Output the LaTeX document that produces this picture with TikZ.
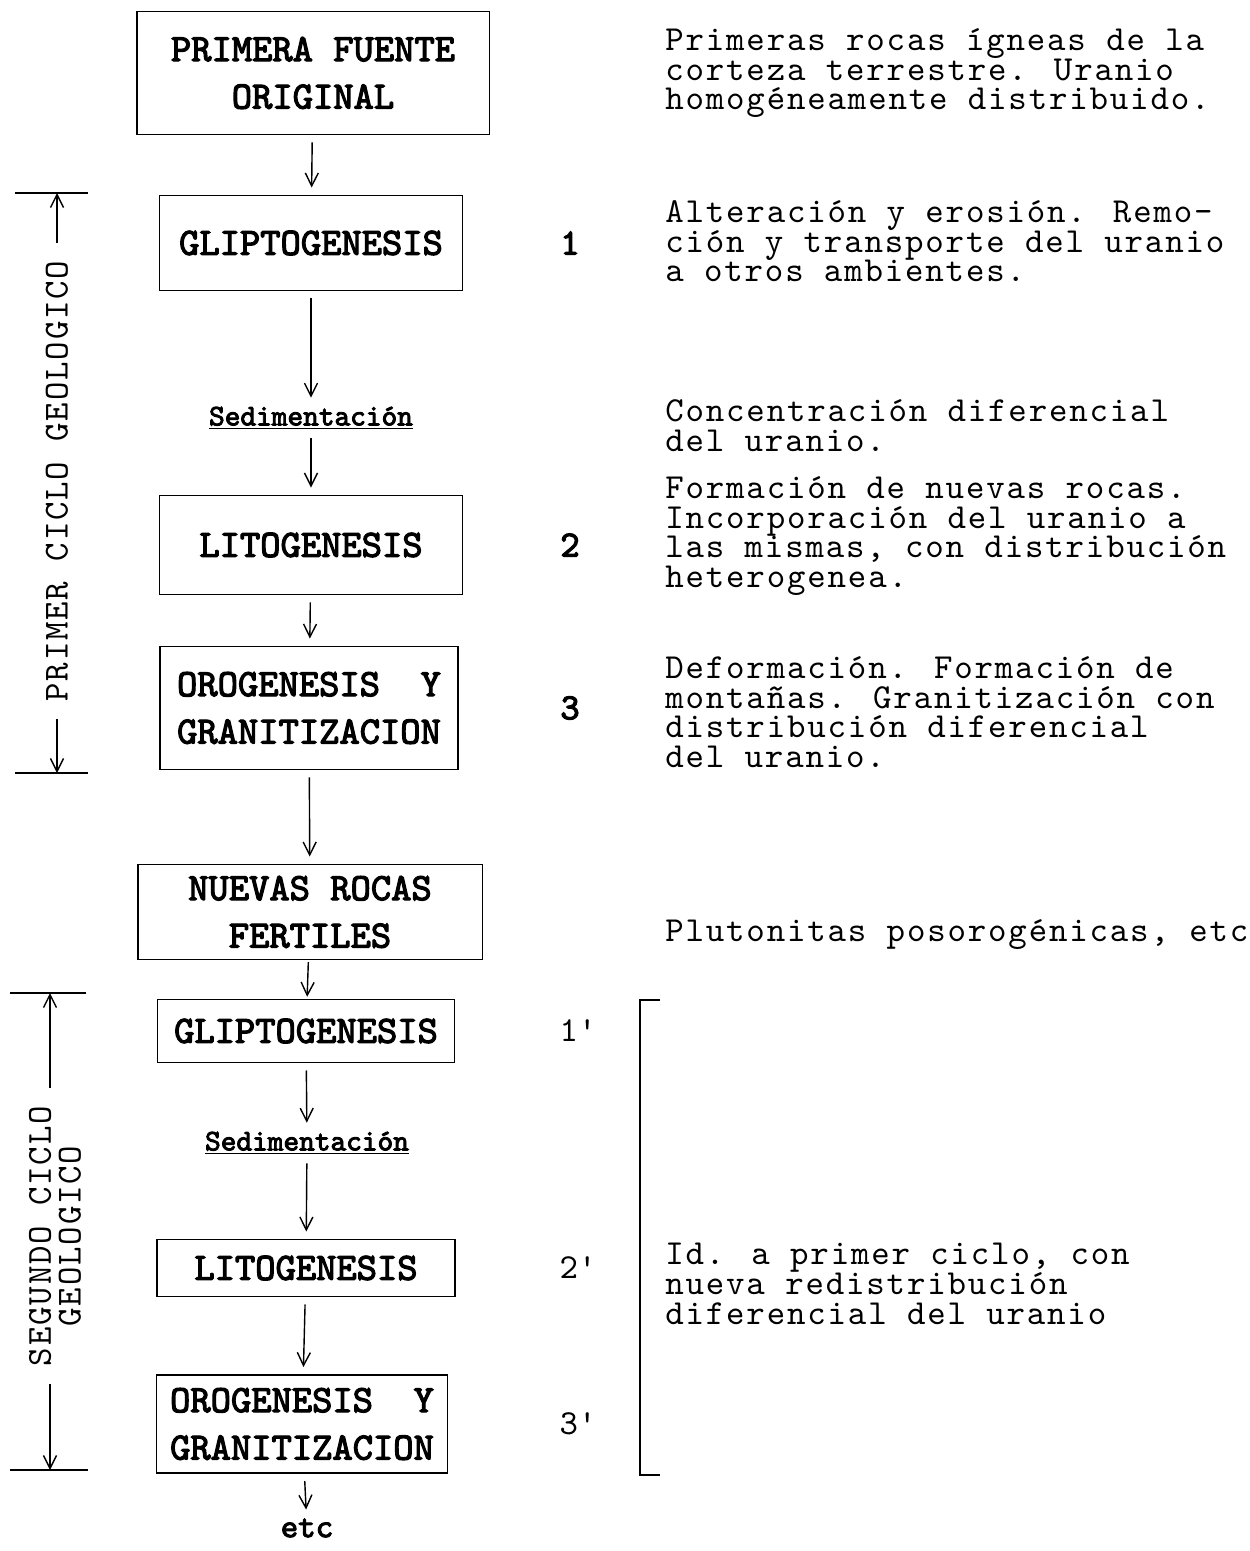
\documentclass[tikz,border=0pt]{standalone}
\usepackage{fontspec}
\newfontfamily\typebold[FakeBold=3]{lmmono10-regular.otf}
\newfontfamily\typeplain[LetterSpace=5.25]{lmmono10-regular.otf}
\usepackage{tikz}
\usetikzlibrary{arrows.meta, positioning, calc}
\newcommand{\boxfont}{\typebold\fontsize{22}{27}\selectfont}
\newcommand{\notefont}{\typeplain\fontsize{20}{17}\selectfont\lineskiplimit=-100pt}
\newcommand{\sedfont}{\typebold\fontsize{17}{17}\selectfont}
\tikzset{
  stagebox/.style={rectangle, draw, line width=1.1pt, align=center, font=\boxfont, inner sep=0pt},
  stagetext/.style={align=center, inner sep=1pt, font=\sedfont},
  flowarrow/.style={-{Straight Barb[length=2.6mm, width=2.6mm]}, line width=0.8pt, shorten <=4pt, shorten >=4pt},
  note/.style={anchor=north west, align=left, inner sep=0pt, font=\notefont},
  stepnum/.style={inner sep=0pt, font=\notefont},
  cyclelabel/.style={rotate=90, align=center, inner sep=0pt, font=\notefont},
  bound/.style={line width=1.1pt},
}

\begin{document}
\begin{tikzpicture}[x=0.02cm, y=-0.02cm]
  \useasboundingbox (0,0) rectangle (1250,1551);

  % Flow
  \node[stagebox, minimum width=7.06cm, minimum height=2.46cm] (src) at (313,73) {PRIMERA FUENTE\\ORIGINAL};
  \node[stagebox, minimum width=6.06cm, minimum height=1.9cm] (glip) at (311,243) {GLIPTOGENESIS};
  \node[stagetext] (sed) at (311,418) {\underline{Sedimentación}};
  \node[stagebox, minimum width=6.06cm, minimum height=1.98cm] (lito) at (311,545) {LITOGENESIS};
  \node[stagebox, minimum width=5.96cm, minimum height=2.46cm] (oro) at (309,708) {OROGENESIS\ \ Y\\GRANITIZACION};
  \node[stagebox, minimum width=6.9cm, minimum height=1.9cm] (fert) at (310,912) {NUEVAS ROCAS\\FERTILES};
  \node[stagebox, minimum width=5.94cm, minimum height=1.26cm] (glipB) at (306,1031) {GLIPTOGENESIS};
  \node[stagetext] (sedB) at (307,1143) {\underline{Sedimentación}};
  \node[stagebox, minimum width=5.96cm, minimum height=1.14cm] (litoB) at (306,1268) {LITOGENESIS};
  \node[stagebox, minimum width=5.82cm, minimum height=1.96cm] (oroB) at (302,1424) {OROGENESIS\ \ Y\\GRANITIZACION};
  \node[stagetext, font=\typebold\fontsize{19}{19}\selectfont] (etc) at (307,1528) {etc};

  % Arrows
  \draw[flowarrow] (src) -- (glip);
  \draw[flowarrow] (glip) -- (sed);
  \draw[flowarrow] (sed) -- (lito);
  \draw[flowarrow] (lito) -- (oro);
  \draw[flowarrow] (oro) -- (fert);
  \draw[flowarrow, shorten <=1pt, shorten >=1pt] (fert) -- (glipB);
  \draw[flowarrow] (glipB) -- (sedB);
  \draw[flowarrow] (sedB) -- (litoB);
  \draw[flowarrow] (litoB) -- (oroB);
  \draw[flowarrow] (oroB) -- (etc);

  % Step numbers
  \node[stepnum, font=\typebold\fontsize{21}{21}\selectfont] (n1) at (570,243) {1};
  \node[stepnum, font=\typebold\fontsize{21}{21}\selectfont] (n2) at (570,545) {2};
  \node[stepnum, font=\typebold\fontsize{21}{21}\selectfont] (n3) at (570,708) {3};
  \node[stepnum] (n1b) at (578,1031) {1\textquotesingle};
  \node[stepnum] (n2b) at (578,1268) {2\textquotesingle};
  \node[stepnum] (n3b) at (578,1424) {3\textquotesingle};

  % Notes
  \node[note] (d0) at (665,28) {Primeras rocas ígneas de la\\corteza terrestre. Uranio\\homogéneamente distribuido.};
  \node[note] (d1) at (665,200) {Alteración y erosión. Remo-\\ción y transporte del uranio\\a otros ambientes.};
  \node[note] (d2) at (665,399) {Concentración diferencial\\del uranio.};
  \node[note] (d3) at (665,476) {Formación de nuevas rocas.\\Incorporación del uranio a\\las mismas, con distribución\\heterogenea.};
  \node[note] (d4) at (665,656) {Deformación. Formación de\\montañas. Granitización con\\distribución diferencial\\del uranio.};
  \node[note] (d5) at (665,919) {Plutonitas posorogénicas, etc};
  \node[note] (d6) at (665,1243) {Id. a primer ciclo, con\\nueva redistribución\\diferencial del uranio};

  % Cycle labels
  \node[cyclelabel] (cicloA) at (57,481) {PRIMER CICLO GEOLOGICO};
  \coordinate (topA) at (57,193);
  \coordinate (botA) at (57,773);
  \draw[bound] (topA) ++(-42,0) -- ++(73,0);
  \draw[bound] (botA) ++(-42,0) -- ++(73,0);
  \draw[flowarrow, shorten <=10pt, shorten >=0pt] (cicloA.east) -- (topA);
  \draw[flowarrow, shorten <=10pt, shorten >=0pt] (cicloA.west) -- (botA);

  \node[cyclelabel] (cicloB) at (55,1236) {SEGUNDO CICLO\\GEOLOGICO};
  \coordinate (topB) at (50,993);
  \coordinate (botB) at (50,1470);
  \draw[bound] (topB) ++(-40,0) -- ++(76,0);
  \draw[bound] (botB) ++(-40,0) -- ++(78,0);
  \draw[flowarrow, shorten <=10pt, shorten >=0pt] (cicloB.east -| topB) -- (topB);
  \draw[flowarrow, shorten <=10pt, shorten >=0pt] (cicloB.west -| botB) -- (botB);

  % Bracket
  \draw[bound] (660,1000) -- (640,1000) -- (640,1475) -- (660,1475);
\end{tikzpicture}
\end{document}
